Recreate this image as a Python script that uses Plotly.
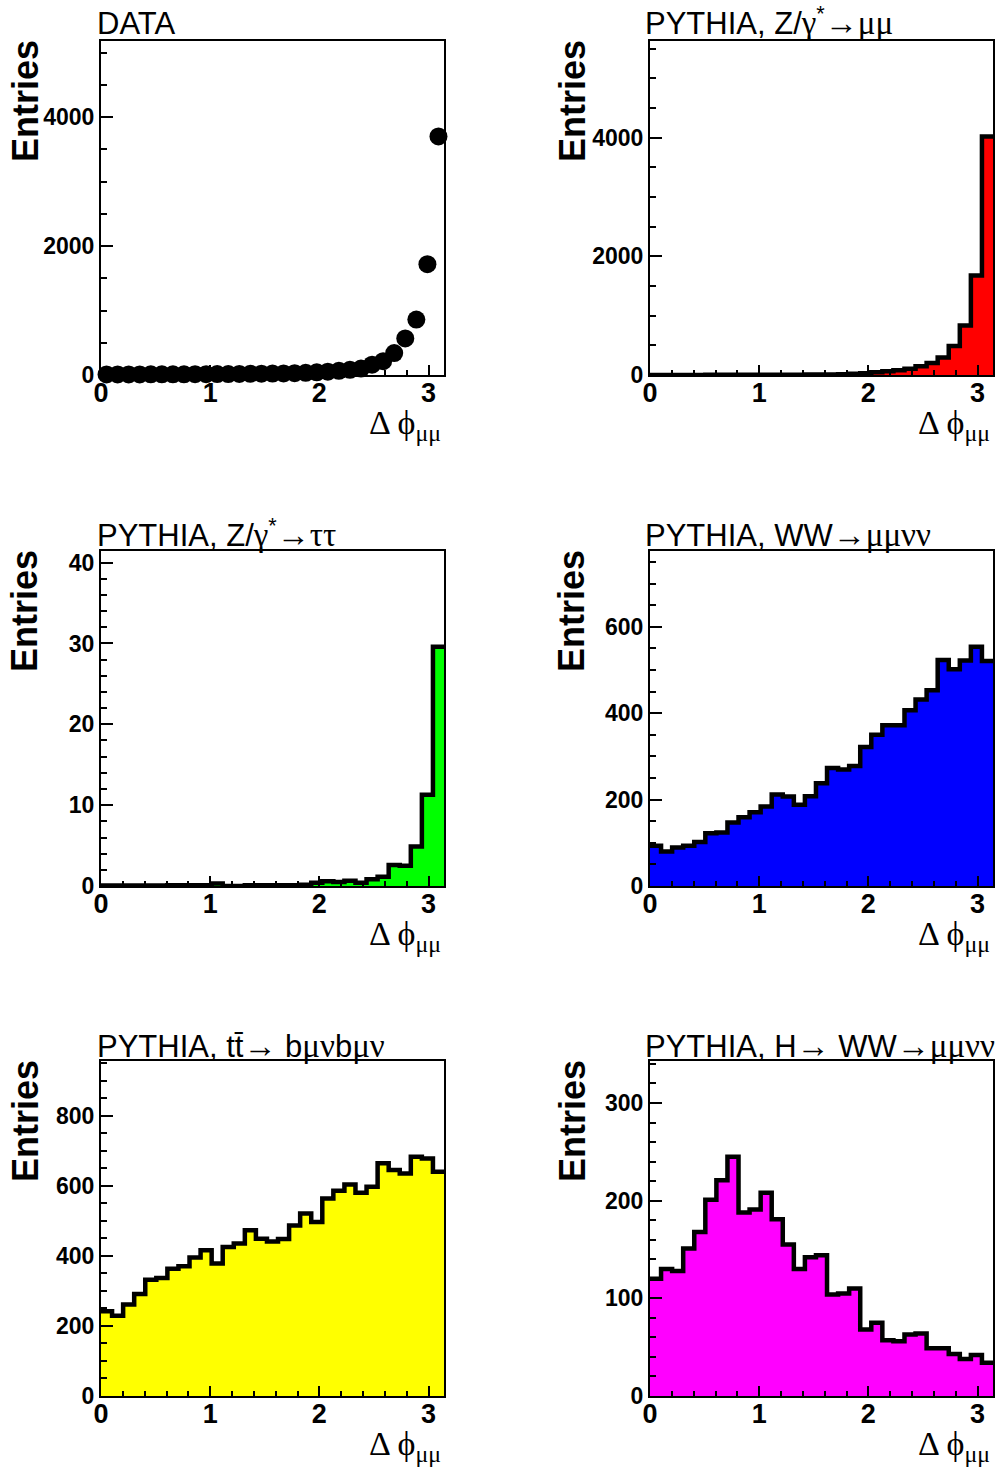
import numpy as np
import plotly.graph_objects as go

# ---------------- data (31 bins from 0 to pi) ----------------
n_bins = 31
data_counts = [8, 8, 9, 9, 10, 10, 11, 11, 12, 13, 14, 15, 16, 18, 20, 22, 25, 29, 34, 42,
               52, 64, 80, 100, 160, 215, 340, 568, 860, 1718, 3700]
zmumu = [2, 2, 2, 2, 2, 3, 3, 3, 3, 4, 5, 5, 6, 6, 7, 8, 10, 13, 22, 30,
         45, 65, 82, 107, 147, 203, 295, 490, 835, 1675, 4020]
ztautau = [0.05, 0.05, 0.05, 0.05, 0.05, 0.05, 0.1, 0.1, 0.1, 0.1, 0.3, 0.0, 0.0, 0.1, 0.1,
           0.1, 0.1, 0.1, 0.15, 0.4, 0.6, 0.5, 0.65, 0.4, 0.85, 1.15, 2.6, 2.5, 4.9, 11.3, 29.6]
ww = [93, 80, 89, 93, 102, 122, 124, 147, 159, 171, 184, 212, 207, 188, 208, 238,
      273, 270, 278, 322, 350, 372, 372, 407, 432, 453, 523, 502, 522, 554, 521]
ttbar = [242, 229, 261, 291, 332, 337, 363, 370, 395, 416, 378, 425, 435, 473, 449, 441,
         448, 487, 521, 497, 564, 586, 604, 580, 597, 664, 645, 635, 683, 678, 640]
higgs = [120, 130, 128, 151, 168, 201, 221, 245, 188, 191, 208, 181, 155, 130, 142, 144,
         104, 105, 110, 68, 75, 57, 56, 63, 64, 49, 49, 43, 38, 42, 34]

GR = "font-family:'Liberation Serif';font-size:33px"
titles = [
    "DATA",
    f"PYTHIA, Z/<span style=\"{GR}\">γ</span><sup>*</sup><span style=\"{GR}\">→μμ</span>",
    f"PYTHIA, Z/<span style=\"{GR}\">γ</span><sup>*</sup><span style=\"{GR}\">→ττ</span>",
    f"PYTHIA, WW<span style=\"{GR}\">→μμνν</span>",
    f"PYTHIA, tt\u0304<span style=\"{GR}\">→</span> b<span style=\"{GR}\">μν</span>b<span style=\"{GR}\">μν</span>",
    f"PYTHIA, H<span style=\"{GR}\">→</span> WW<span style=\"{GR}\">→μμνν</span>",
]
colors = [None, "#ff0000", "#00ff00", "#0000ff", "#ffff00", "#ff00ff"]
series = [data_counts, zmumu, ztautau, ww, ttbar, higgs]
y_major = [2000, 2000, 10, 200, 200, 100]
y_minor = [500, 500, 2, 50, 50, 20]

# ---------------- layout geometry (pixels) ----------------
W, H = 995, 1470
col_x = [(101, 444), (650, 993)]
row_y = [(41, 375), (551, 886), (1061, 1396)]

edges = np.linspace(0, np.pi, n_bins + 1)
centers = 0.5 * (edges[:-1] + edges[1:])

fig = go.Figure()
layout = dict(width=W, height=H, margin=dict(l=0, r=0, t=0, b=0, autoexpand=False),
              paper_bgcolor="white", plot_bgcolor="white", showlegend=False,
              annotations=[])

def px(x):
    return x / W

def py(y):
    return 1 - y / H

TICKFONT_X = dict(family="Liberation Sans", size=27, color="black", weight="bold")
TICKFONT_Y = dict(family="Liberation Sans", size=23, color="black", weight="bold")

for i in range(6):
    r, c = divmod(i, 2)
    x0, x1 = col_x[c]
    y0, y1 = row_y[r]
    xa = "xaxis" if i == 0 else f"xaxis{i+1}"
    ya = "yaxis" if i == 0 else f"yaxis{i+1}"
    xr = "x" if i == 0 else f"x{i+1}"
    yr = "y" if i == 0 else f"y{i+1}"
    vals = series[i]
    ymax = 1.4 * max(vals)

    if i == 0:
        fig.add_trace(go.Scatter(x=centers, y=vals, mode="markers", xaxis=xr, yaxis=yr,
                                 marker=dict(color="black", size=18), cliponaxis=False))
    else:
        fig.add_trace(go.Scatter(x=edges, y=list(vals) + [vals[-1]], mode="lines",
                                 line=dict(shape="hv", color="black", width=4.5),
                                 fill="tozeroy", fillcolor=colors[i], xaxis=xr, yaxis=yr))

    layout[xa] = dict(domain=[px(x0), px(x1)], anchor=yr, range=[0, np.pi],
                      automargin=False,
                      showgrid=False, zeroline=False, showline=True, mirror=True,
                      linecolor="black", linewidth=2,
                      ticks="inside", ticklen=10, tickwidth=1.5, tickcolor="black",
                      tick0=0, dtick=1, tickfont=TICKFONT_X, ticklabelstandoff=-7,
                      minor=dict(ticks="inside", ticklen=5, dtick=0.2, tick0=0,
                                 tickcolor="black", tickwidth=1.5))
    layout[ya] = dict(domain=[py(y1), py(y0)], anchor=xr, range=[0, ymax],
                      automargin=False,
                      showgrid=False, zeroline=False, showline=True, mirror=True,
                      linecolor="black", linewidth=2,
                      ticks="inside", ticklen=12, tickwidth=1.5, tickcolor="black",
                      tick0=0, dtick=y_major[i], tickfont=TICKFONT_Y,
                      minor=dict(ticks="inside", ticklen=6, dtick=y_minor[i], tick0=0,
                                 tickcolor="black", tickwidth=1.5))

    tx = 95 if c == 0 else 643
    base = [36, 548, 1059][r]
    layout["annotations"].append(dict(
        text=titles[i], x=px(tx), y=py(base + 7), xref="paper", yref="paper",
        xanchor="left", yanchor="bottom", showarrow=False,
        font=dict(family="Liberation Sans", size=31, color="black")))
    layout["annotations"].append(dict(
        text="<b>Entries</b>", x=px(25 if c == 0 else 572), y=py((y0 + 60)),
        xref="paper", yref="paper", xanchor="center", yanchor="middle",
        textangle=-90, showarrow=False,
        font=dict(family="Liberation Sans", size=36, color="black")))
    layout["annotations"].append(dict(
        text="Δ ϕ<sub>μμ</sub>", x=px(x1 - 1), y=py(y1 + 50), xref="paper", yref="paper",
        xanchor="right", yanchor="middle", showarrow=False,
        font=dict(family="Liberation Serif", size=34, color="black")))

fig.update_layout(**layout)
fig.write_html("out.html")
